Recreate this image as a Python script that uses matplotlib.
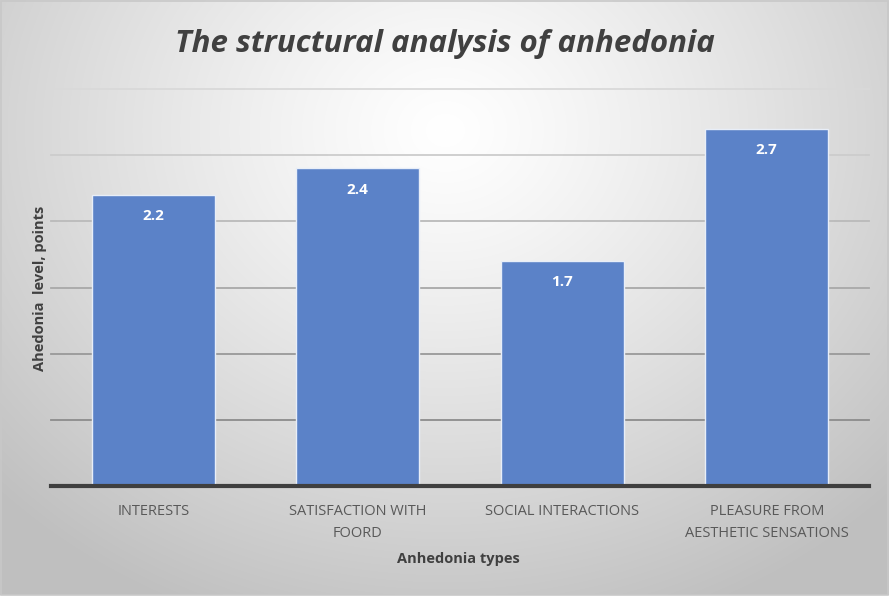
import numpy as np
import matplotlib
matplotlib.use("Agg")
import matplotlib.pyplot as plt
from matplotlib.patches import Rectangle

categories = ["INTERESTS", "SATISFACTION WITH\nFOORD", "SOCIAL INTERACTIONS",
              "PLEASURE FROM\nAESTHETIC SENSATIONS"]
values = [2.2, 2.4, 1.7, 2.7]
labels = ["2.2", "2.4", "1.7", "2.7"]
title = "The structural analysis of anhedonia"
xlabel = "Anhedonia types"
ylabel = "Ahedonia  level, points"

W, H = 892, 600
fig = plt.figure(figsize=(W / 100, H / 100), dpi=100)

# background radial gradient over the chart area
bg = fig.add_axes([0, 0, 1, 1])
bg.set_axis_off()
yy, xx = np.mgrid[0:H, 0:W]
d = np.sqrt(((xx - 445) / 1.0) ** 2 + ((yy - 130) / 0.85) ** 2)
t = np.clip(d / 620, 0, 1)
lv = 1.0 - 0.25 * t ** 1.2
img = np.dstack([lv, lv, lv])
img[:, 889:] = 1.0
img[595:, :] = 1.0
bg.imshow(img, extent=[0, W, H, 0], aspect="auto", interpolation="bilinear")
bg.set_xlim(0, W)
bg.set_ylim(H, 0)
bg.add_patch(Rectangle((0.5, 0.5), 887.5, 594, fill=False, edgecolor="#c8c8c8", lw=1.2))

ax = fig.add_axes([51 / W, 1 - 486 / H, 818 / W, (486 - 89) / H])
ax.patch.set_alpha(0)
x = np.arange(len(categories))
ax.set_xlim(-0.5, len(categories) - 0.5)
ax.set_ylim(0, 3.0)

grid_vals = [0.5, 1.0, 1.5, 2.0, 2.5, 3.0]
grid_cols = ["#8c8c8c", "#999999", "#a8a8a8", "#bababa", "#cccccc", "#d9d9d9"]
for gv, gc in zip(grid_vals, grid_cols):
    ax.axhline(gv, color=gc, lw=1.3, zorder=1, clip_on=False)

bars = ax.bar(x, values, width=0.6, color="#5b82c8", edgecolor="#e8eef8", linewidth=1.0, zorder=2)
for b, lab in zip(bars, labels):
    ax.text(b.get_x() + b.get_width() / 2, b.get_height() - 0.16, lab,
            ha="center", va="center", color="white", fontsize=11, fontweight="bold",
            family="Open Sans", zorder=3)

ax.axhline(0, color="#3f3f3f", lw=3, zorder=4, clip_on=False)
for s in ax.spines.values():
    s.set_visible(False)
ax.set_yticks([])
ax.set_xticks(x)
ax.set_xticklabels(categories, fontsize=10.5, color="#595959", family="Open Sans",
                   linespacing=1.6)
ax.tick_params(axis="x", length=0, pad=13)

fig.text(445 / W, 1 - 44 / H, title, ha="center", va="center", fontsize=22.5,
         fontstyle="italic", fontweight="bold", color="#404040", family="Open Sans")
fig.text(458 / W, 1 - 559 / H, xlabel, ha="center", va="center", fontsize=10.5,
         fontweight="bold", color="#404040", family="Open Sans")
fig.text(40 / W, 1 - 288 / H, ylabel, ha="center", va="center", fontsize=10.5,
         fontweight="bold", color="#404040", rotation=90, family="Open Sans")

fig.savefig("out.png", dpi=100)
